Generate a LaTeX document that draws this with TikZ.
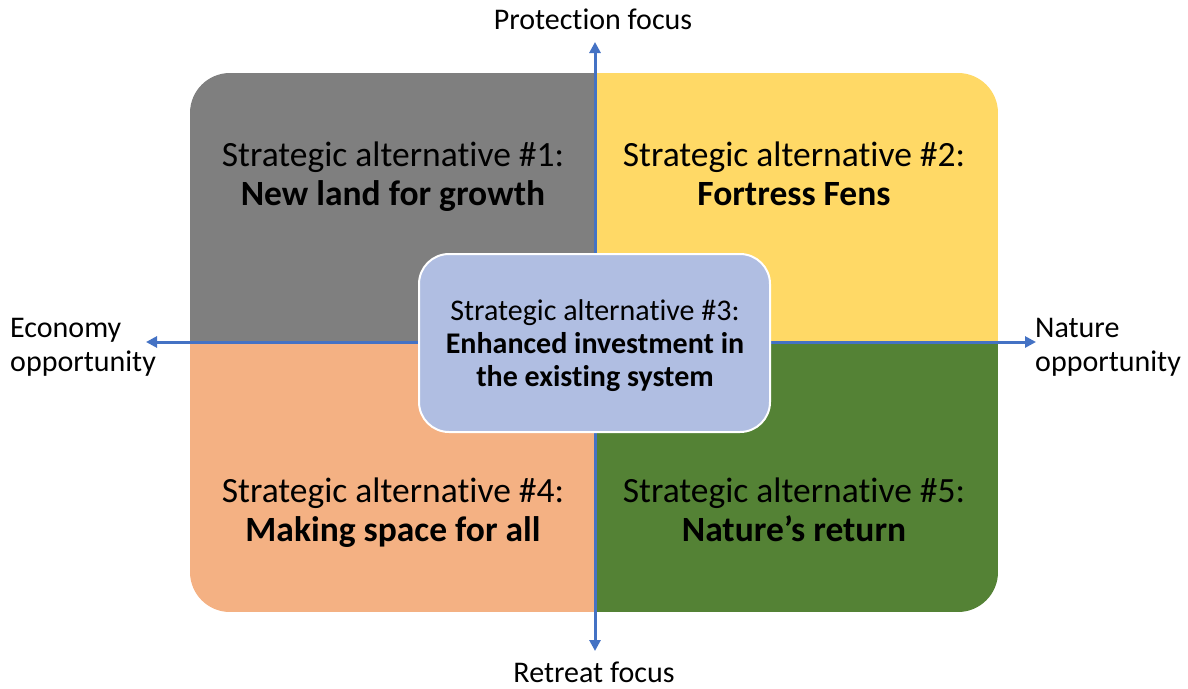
\documentclass[tikz,border=0pt]{standalone}
\usepackage{fontspec}
\setmainfont{Carlito}[Ligatures=NoCommon,Contextuals=NoAlternate]
\usetikzlibrary{arrows.meta}
\newcommand\myalt{alternat\kern0pt ive}
\definecolor{qgray}{HTML}{7F7F7F}
\definecolor{qyellow}{HTML}{FFD966}
\definecolor{qorange}{HTML}{F4B183}
\definecolor{qgreen}{HTML}{548235}
\definecolor{qblue}{HTML}{B0BEE2}
\definecolor{axisblue}{HTML}{4472C4}
\tikzset{
  quadtext/.style={align=center, font=\fontsize{35.5}{39}\selectfont, text=black, inner sep=0pt, anchor=base},
  axislabel/.style={font=\fontsize{30}{34}\selectfont, text=black, inner sep=0pt, anchor=base},
  axisarrow/.style={draw=axisblue, line width=3pt, -{Triangle[length=11pt,width=11pt]}},
  centerbox/.style={draw=white, line width=2pt, fill=qblue, rounded corners=30pt,
    minimum width=351pt, minimum height=178pt, inner sep=0pt},
  centertext/.style={align=center, font=\fontsize{30}{33}\selectfont, text=black, inner sep=0pt, anchor=base}
}
\begin{document}
\begin{tikzpicture}[x=1pt,y=-1pt]
\useasboundingbox (0,0) rectangle (1188,688);
% quadrants
\begin{scope}
  \clip[rounded corners=40pt] (190,73) rectangle (998,612);
  \fill[qgray] (190,73) rectangle (595,342);
  \fill[qyellow] (595,73) rectangle (998,342);
  \fill[qorange] (190,342) rectangle (595,612);
  \fill[qgreen] (595,342) rectangle (998,612);
\end{scope}
% axes
\coordinate (ctop) at (595,42);
\coordinate (cbot) at (595,651);
\coordinate (cleft) at (146,342);
\coordinate (cright) at (1036,342);
\coordinate (cmid) at (595,342);
\draw[axisarrow] (cmid) -- (ctop);
\draw[axisarrow] (cmid) -- (cbot);
\draw[axisarrow] (cmid) -- (cleft);
\draw[axisarrow] (cmid) -- (cright);
% axis labels
\node[axislabel] (ptop) at (593,29) {Protect\kern0pt ion focus};
\node[axislabel] (pbot) at (594,682) {Retreat focus};
\node[axislabel, anchor=base west, align=left] (pleft) at (10,371) {Economy\\opportunity};
\node[axislabel, anchor=base west, align=left] (pright) at (1035,371) {Nature\\opportunity};
% quadrant texts
\node[quadtext] (q1) at (393,205) {Strategic \myalt{} \#1:\\\textbf{New land for growth}};
\node[quadtext] (q2) at (794,205) {Strategic \myalt{} \#2:\\\textbf{Fortress Fens}};
\node[quadtext] (q4) at (393,541) {Strategic \myalt{} \#4:\\\textbf{Making space for all}};
\node[quadtext] (q5) at (794,541) {Strategic \myalt{} \#5:\\\textbf{Nature’s return}};
% center box
\node[centerbox] (q3) at (594.5,343) {};
\node[centertext] (q3t) at (595,386) {Strategic \myalt{} \#3:\\\textbf{Enhanced investment in}\\\textbf{the existing system}};
\end{tikzpicture}
\end{document}
